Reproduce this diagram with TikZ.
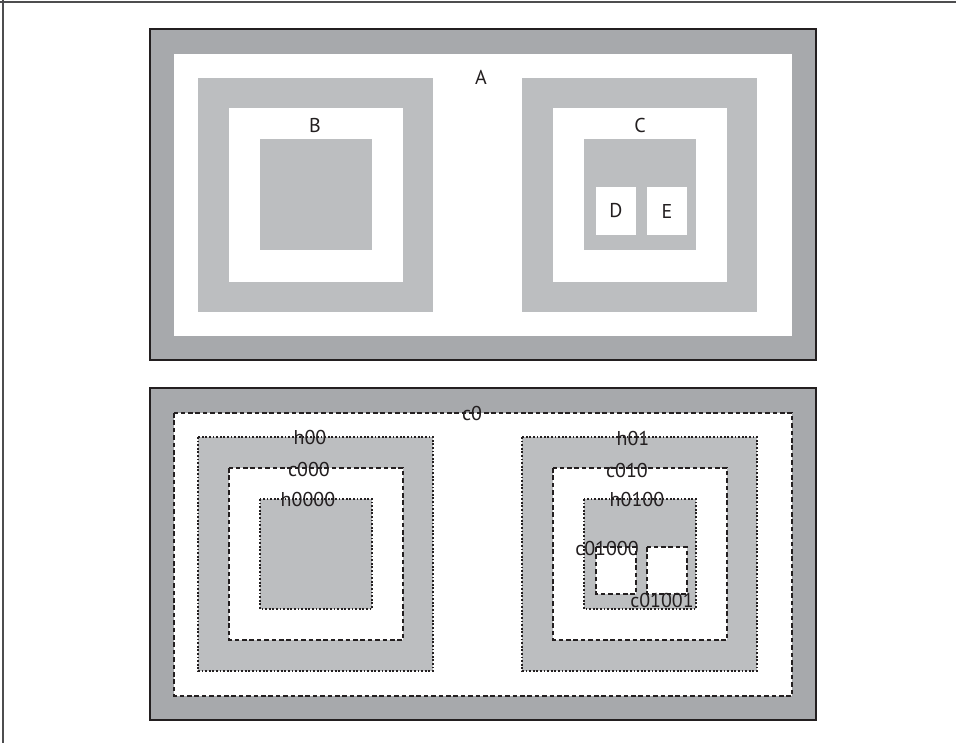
\documentclass[tikz,border=0pt]{standalone}
\usepackage{fontspec}
\setmainfont{PT Sans}
\definecolor{band}{HTML}{A7A9AC}
\definecolor{boxgray}{HTML}{BCBEC0}
\definecolor{ink}{HTML}{231F20}
\definecolor{frame}{HTML}{4D4D4F}

\begin{document}
\begin{tikzpicture}[x=0.5pt,y=-0.5pt,line join=miter,
  lbl/.style={font=\fontsize{10}{12}\selectfont,text=ink,inner sep=0pt},
  cbox/.style={draw=ink,line width=1pt,dash pattern=on 2.3pt off 1.4pt},
  hbox/.style={draw=ink,line width=1.1pt,dash pattern=on 0.9pt off 0.9pt}]
  % canvas 956 x 743, y grows downwards
  \useasboundingbox (0,0) rectangle (956,743);
  \draw[frame,line width=1pt] (0,2.5) -- (956,2.5);
  \draw[frame,line width=1pt] (3,0) -- (3,743);

  % ---- top panel: regions ----
  \fill[band] (150,29) rectangle (816,360);
  \fill[white] (174,54) rectangle (792,336);
  \foreach \dx in {0,324}{
    \fill[boxgray] (198+\dx,78) rectangle (433+\dx,312);
    \fill[white] (229+\dx,108) rectangle (403+\dx,282);
    \fill[boxgray] (260+\dx,139) rectangle (372+\dx,250);
  }
  % holes D and E
  \fill[white] (596,187) rectangle (636,235);
  \fill[white] (647,187) rectangle (687,235);
  \draw[ink,line width=1.1pt] (150,29) rectangle (816,360);

  \node[lbl] (A) at (481,77) {A};
  \node[lbl] (B) at (315,126) {B};
  \node[lbl] (C) at (640,126) {C};
  \node[lbl] (D) at (616,211) {D};
  \node[lbl] (E) at (667,211) {E};

  % ---- bottom panel: contours ----
  \fill[band] (150,388) rectangle (816,720);
  \fill[white] (174,413) rectangle (792,696);
  \foreach \dx in {0,324}{
    \fill[boxgray] (198+\dx,437) rectangle (433+\dx,671);
    \fill[white] (229+\dx,468) rectangle (403+\dx,640);
    \fill[boxgray] (260+\dx,499) rectangle (372+\dx,609);
  }
  \fill[white] (596,547) rectangle (636,594);
  \fill[white] (647,547) rectangle (687,594);
  \draw[ink,line width=1.1pt] (150,388) rectangle (816,720);

  % contour lines (dashed = outer, dotted = hole)
  \draw[cbox] (174,413) rectangle (792,696);
  \foreach \dx in {0,324}{
    \draw[hbox] (198+\dx,437) rectangle (433+\dx,671);
    \draw[cbox] (229+\dx,468) rectangle (403+\dx,640);
    \draw[hbox] (260+\dx,499) rectangle (372+\dx,609);
  }
  \draw[cbox] (596,547) rectangle (636,594);
  \draw[cbox] (647,547) rectangle (687,594);

  \node[lbl] (c0) at (472,413) {c0};
  \node[lbl] (h00) at (310,437) {h00};
  \node[lbl] (c000) at (309,469) {c000};
  \node[lbl] (h0000) at (308,499) {h0000};
  \node[lbl] (h01) at (633,438) {h01};
  \node[lbl] (c010) at (627,470) {c010};
  \node[lbl] (h0100) at (637,499) {h0100};
  \node[lbl] (c01000) at (607,548) {c01000};
  \node[lbl] (c01001) at (662,600) {c01001};
\end{tikzpicture}
\end{document}
